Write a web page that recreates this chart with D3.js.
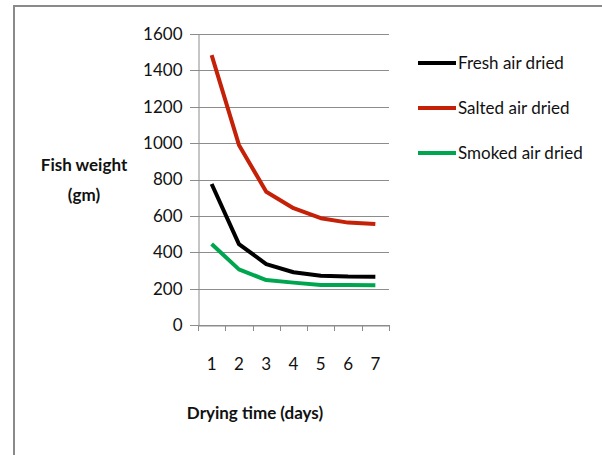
<!DOCTYPE html>
<html>
<head>
<meta charset="utf-8">
<script src="https://cdn.jsdelivr.net/npm/d3@7"></script>
<style>
  body { margin: 0; background: #fff; }
  svg { display: block; }
  text { font-family: Lato, "Open Sans", "Liberation Sans", sans-serif; fill: #111; }
</style>
</head>
<body>
<svg id="chart" width="602" height="455"></svg>
<script>
// Fish weight during drying
const days = ['1', '2', '3', '4', '5', '6', '7'];
const freshAirDried = [775, 445, 335, 290, 271, 266, 265];
const saltedAirDried = [1484, 990, 733, 642, 587, 563, 555];
const smokedAirDried = [445, 306, 247, 233, 220, 220, 218];
const yTicks = [0, 200, 400, 600, 800, 1000, 1200, 1400, 1600];

const series = [
    { name: 'Fresh air dried', color: '#000000', values: freshAirDried },
    { name: 'Salted air dried', color: '#C42108', values: saltedAirDried },
    { name: 'Smoked air dried', color: '#00A64F', values: smokedAirDried }
];

const svg = d3.select('#chart');
const gridColor = '#8c8c8c';

// outer frame (left and top edges visible)
svg.append('path')
    .attr('d', 'M14,460 L14,6 L610,6')
    .attr('fill', 'none')
    .attr('stroke', '#8a8a8a')
    .attr('stroke-width', 2);

const plot = { left: 198, right: 389, top: 34, bottom: 325 };

const x = d3.scaleBand()
    .domain(days)
    .range([plot.left, plot.right]);

const y = d3.scaleLinear()
    .domain([0, 1600])
    .range([plot.bottom, plot.top]);

// gridlines
svg.append('g')
    .selectAll('line')
    .data(yTicks)
    .enter()
    .append('line')
    .attr('x1', plot.left - 8)
    .attr('x2', plot.right)
    .attr('y1', d => Math.round(y(d)) + 0.5)
    .attr('y2', d => Math.round(y(d)) + 0.5)
    .attr('stroke', gridColor)
    .attr('stroke-width', 1);

// y axis
const yAxis = svg.append('g')
    .attr('transform', `translate(${plot.left + 0.5}, 0)`)
    .call(d3.axisLeft(y).tickValues(yTicks).tickSize(0).tickPadding(16).tickFormat(d3.format('d')));
yAxis.select('.domain').attr('stroke', gridColor);
yAxis.selectAll('text')
    .attr('font-size', '17px')
    .attr('font-family', null)
    .attr('fill', '#111');

// x axis
const xAxis = svg.append('g')
    .attr('transform', `translate(0, ${Math.round(plot.bottom) + 0.5})`)
    .call(d3.axisBottom(x).tickSize(0).tickPadding(32));
xAxis.select('.domain').attr('stroke', gridColor);
xAxis.selectAll('text')
    .attr('font-size', '17px')
    .attr('font-family', null)
    .attr('fill', '#111');

// category boundary tick marks
const bounds = days.map(d => x(d)).concat([x(days[days.length - 1]) + x.bandwidth()]);
svg.append('g')
    .selectAll('line')
    .data(bounds)
    .enter()
    .append('line')
    .attr('x1', d => Math.round(d) + 0.5)
    .attr('x2', d => Math.round(d) + 0.5)
    .attr('y1', plot.bottom)
    .attr('y2', plot.bottom + 6)
    .attr('stroke', gridColor);

// lines
const line = d3.line()
    .x((d, i) => x(days[i]) + x.bandwidth() / 2)
    .y(d => y(d));

svg.append('g')
    .selectAll('path')
    .data(series)
    .enter()
    .append('path')
    .attr('d', d => line(d.values))
    .attr('fill', 'none')
    .attr('stroke', d => d.color)
    .attr('stroke-width', 4)
    .attr('stroke-linejoin', 'round');

// legend
const legend = svg.append('g')
    .attr('transform', 'translate(418, 63)');

const legendItems = legend.selectAll('g')
    .data(series)
    .enter()
    .append('g')
    .attr('transform', (d, i) => `translate(0, ${i * 45})`);

legendItems.append('line')
    .attr('x1', 0)
    .attr('x2', 38)
    .attr('stroke', d => d.color)
    .attr('stroke-width', 4);

legendItems.append('text')
    .attr('x', 40)
    .attr('y', 6)
    .attr('font-size', '17px')
    .text(d => d.name);

// axis titles
const yTitle = svg.append('text')
    .attr('x', 84)
    .attr('text-anchor', 'middle')
    .attr('font-size', '17px')
    .attr('font-weight', 'bold');
yTitle.append('tspan').attr('x', 84).attr('y', 171).text('Fish weight');
yTitle.append('tspan').attr('x', 84).attr('y', 201).text('(gm)');

svg.append('text')
    .attr('x', 255)
    .attr('y', 419)
    .attr('text-anchor', 'middle')
    .attr('font-size', '17px')
    .attr('font-weight', 'bold')
    .text('Drying time (days)');
</script>
</body>
</html>
